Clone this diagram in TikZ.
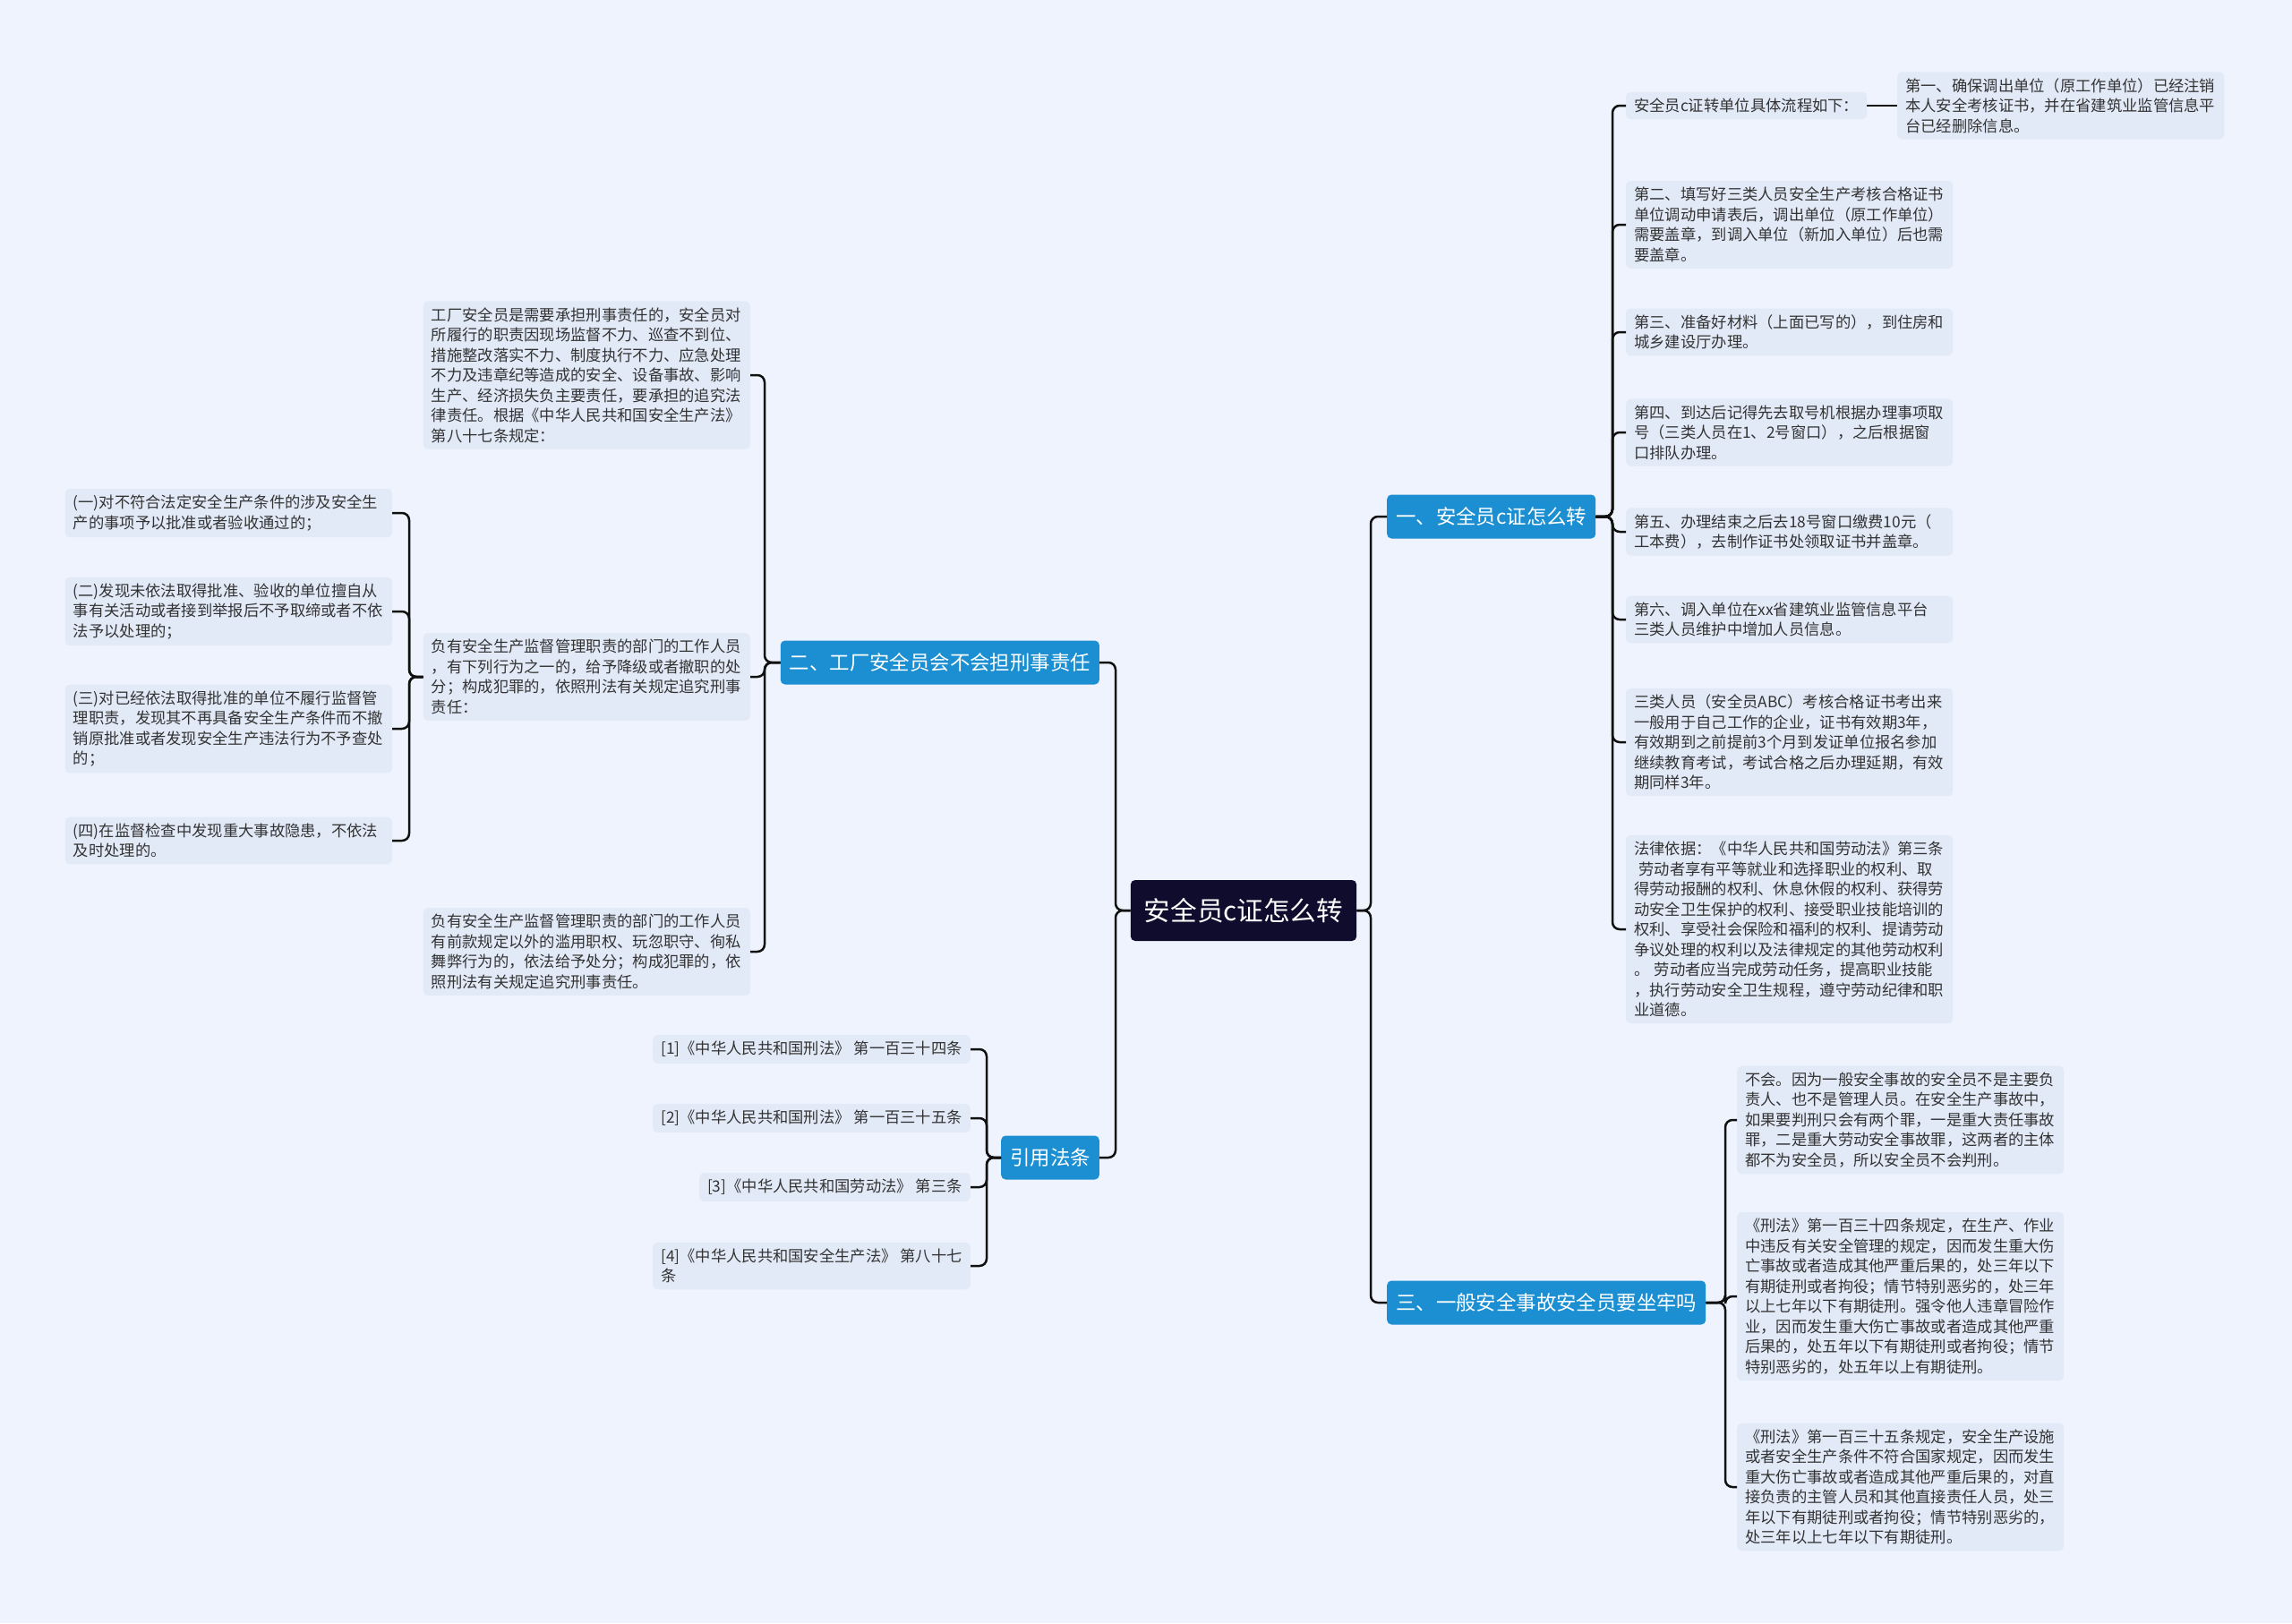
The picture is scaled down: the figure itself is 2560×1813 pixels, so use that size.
\documentclass[tikz,border=0pt]{standalone}
\usepackage{fontspec}
\newfontfamily\cjk{Noto Sans CJK SC}
\usepackage{tikz}

\definecolor{bgc}{HTML}{EEF3FD}
\definecolor{leafc}{HTML}{E2EAF8}
\definecolor{brc}{HTML}{1B8FD2}
\definecolor{rootc}{HTML}{0F0C2E}
\definecolor{txtc}{HTML}{333333}
\definecolor{linec}{HTML}{111111}

\begin{document}
\begin{tikzpicture}[x=1pt, y=1pt,
  root/.style={fill=rootc, text=white, rounded corners=5pt, inner xsep=15pt,
    minimum height=68pt, font=\cjk\fontsize{29.6}{34}\selectfont},
  branch/.style={fill=brc, text=white, rounded corners=5pt, inner xsep=10pt,
    minimum height=49pt, font=\cjk\fontsize{22.4}{27}\selectfont},
  tag/.style={fill=leafc, text=txtc, rounded corners=5pt, inner xsep=9pt,
    inner ysep=7pt, align=left, font=\cjk\fontsize{17.3}{22.5}\selectfont},
  leaf/.style={tag, text width=347pt},
  link/.style={draw=linec, line width=2.5pt, rounded corners=8pt}]
\fill[bgc] (0,0) rectangle (2560,-1813);
\useasboundingbox (0,0) rectangle (2560,-1813);

% junction columns
\coordinate (jR) at (1531,0);
\coordinate (j1) at (1801,0);
\coordinate (j3) at (1927,0);
\coordinate (jL) at (1246,0);
\coordinate (j2) at (854,0);
\coordinate (jA) at (457,0);
\coordinate (jC) at (1102,0);

\node[root] (root) at (1389,-1017) {安全员c证怎么转};

% right side
\node[branch, anchor=west] (br1) at (1549,-577) {一、安全员c证怎么转};
\node[branch, anchor=west] (br3) at (1549,-1455) {三、一般安全事故安全员要坐牢吗};

\node[tag, anchor=west] (l1) at (1816,-118) {安全员c证转单位具体流程如下：};
\node[leaf, anchor=west] (l1a) at (2119,-118)
  {第一、确保调出单位（原工作单位）已经注销\\本人安全考核证书，并在省建筑业监管信息平\\台已经删除信息。};
\node[leaf, anchor=west] (l2) at (1816,-251)
  {第二、填写好三类人员安全生产考核合格证书\\单位调动申请表后，调出单位（原工作单位）\\需要盖章，到调入单位（新加入单位）后也需\\要盖章。};
\node[leaf, anchor=west] (l3) at (1816,-371)
  {第三、准备好材料（上面已写的），到住房和\\城乡建设厅办理。};
\node[leaf, anchor=west] (l4) at (1816,-483)
  {第四、到达后记得先去取号机根据办理事项取\\号（三类人员在1、2号窗口），之后根据窗\\口排队办理。};
\node[leaf, anchor=west] (l5) at (1816,-594)
  {第五、办理结束之后去18号窗口缴费10元（\\工本费），去制作证书处领取证书并盖章。};
\node[leaf, anchor=west] (l6) at (1816,-692)
  {第六、调入单位在xx省建筑业监管信息平台\\三类人员维护中增加人员信息。};
\node[leaf, anchor=west] (l7) at (1816,-829)
  {三类人员（安全员ABC）考核合格证书考出来\\一般用于自己工作的企业，证书有效期3年，\\有效期到之前提前3个月到发证单位报名参加\\继续教育考试，考试合格之后办理延期，有效\\期同样3年。};
\node[leaf, anchor=west] (l8) at (1816,-1038)
  {法律依据：《中华人民共和国劳动法》第三条\\\hspace*{0.3em}劳动者享有平等就业和选择职业的权利、取\\得劳动报酬的权利、休息休假的权利、获得劳\\动安全卫生保护的权利、接受职业技能培训的\\权利、享受社会保险和福利的权利、提请劳动\\争议处理的权利以及法律规定的其他劳动权利\\。\hspace{0.3em}劳动者应当完成劳动任务，提高职业技能\\，执行劳动安全卫生规程，遵守劳动纪律和职\\业道德。};

\node[leaf, anchor=west] (r1) at (1940,-1251)
  {不会。因为一般安全事故的安全员不是主要负\\责人、也不是管理人员。在安全生产事故中，\\如果要判刑只会有两个罪，一是重大责任事故\\罪，二是重大劳动安全事故罪，这两者的主体\\都不为安全员，所以安全员不会判刑。};
\node[leaf, anchor=west] (r2) at (1940,-1448)
  {《刑法》第一百三十四条规定，在生产、作业\\中违反有关安全管理的规定，因而发生重大伤\\亡事故或者造成其他严重后果的，处三年以下\\有期徒刑或者拘役；情节特别恶劣的，处三年\\以上七年以下有期徒刑。强令他人违章冒险作\\业，因而发生重大伤亡事故或者造成其他严重\\后果的，处五年以下有期徒刑或者拘役；情节\\特别恶劣的，处五年以上有期徒刑。};
\node[leaf, anchor=west] (r3) at (1940,-1661)
  {《刑法》第一百三十五条规定，安全生产设施\\或者安全生产条件不符合国家规定，因而发生\\重大伤亡事故或者造成其他严重后果的，对直\\接负责的主管人员和其他直接责任人员，处三\\年以下有期徒刑或者拘役；情节特别恶劣的，\\处三年以上七年以下有期徒刑。};

% left side
\node[branch, anchor=east] (br2) at (1228,-740) {二、工厂安全员会不会担刑事责任};
\node[branch, anchor=east] (cite) at (1228,-1293) {引用法条};

\node[leaf, anchor=east] (a1) at (838,-419)
  {工厂安全员是需要承担刑事责任的，安全员对\\所履行的职责因现场监督不力、巡查不到位、\\措施整改落实不力、制度执行不力、应急处理\\不力及违章纪等造成的安全、设备事故、影响\\生产、经济损失负主要责任，要承担的追究法\\律责任。根据《中华人民共和国安全生产法》\\第八十七条规定：};
\node[leaf, anchor=east] (a2) at (838,-756)
  {负有安全生产监督管理职责的部门的工作人员\\，有下列行为之一的，给予降级或者撤职的处\\分；构成犯罪的，依照刑法有关规定追究刑事\\责任：};
\node[leaf, anchor=east] (a3) at (838,-1063)
  {负有安全生产监督管理职责的部门的工作人员\\有前款规定以外的滥用职权、玩忽职守、徇私\\舞弊行为的，依法给予处分；构成犯罪的，依\\照刑法有关规定追究刑事责任。};

\node[leaf, anchor=east] (b1) at (438,-573)
  {(一)对不符合法定安全生产条件的涉及安全生\\产的事项予以批准或者验收通过的；};
\node[leaf, anchor=east] (b2) at (438,-683)
  {(二)发现未依法取得批准、验收的单位擅自从\\事有关活动或者接到举报后不予取缔或者不依\\法予以处理的；};
\node[leaf, anchor=east] (b3) at (438,-814)
  {(三)对已经依法取得批准的单位不履行监督管\\理职责，发现其不再具备安全生产条件而不撤\\销原批准或者发现安全生产违法行为不予查处\\的；};
\node[leaf, anchor=east] (b4) at (438,-939)
  {(四)在监督检查中发现重大事故隐患，不依法\\及时处理的。};

\node[tag, anchor=east] (c1) at (1084,-1172) {[1]《中华人民共和国刑法》 第一百三十四条};
\node[tag, anchor=east] (c2) at (1084,-1249) {[2]《中华人民共和国刑法》 第一百三十五条};
\node[tag, anchor=east] (c3) at (1084,-1326) {[3]《中华人民共和国劳动法》 第三条};
\node[tag, anchor=east] (c4) at (1084,-1414) {[4]《中华人民共和国安全生产法》 第八十七\\条};

% connectors
\foreach \n in {br1,br3}
  \draw[link] (root.east) -- (root.east -| jR) |- (\n.west);
\foreach \n in {l1,l2,l3,l4,l5,l6,l7,l8}
  \draw[link] (br1.east) -- (br1.east -| j1) |- (\n.west);
\draw[link] (l1.east) -- (l1a.west);
\foreach \n in {r1,r2,r3}
  \draw[link] (br3.east) -- (br3.east -| j3) |- (\n.west);
\foreach \n in {br2,cite}
  \draw[link] (root.west) -- (root.west -| jL) |- (\n.east);
\foreach \n in {a1,a2,a3}
  \draw[link] (br2.west) -- (br2.west -| j2) |- (\n.east);
\foreach \n in {b1,b2,b3,b4}
  \draw[link] (a2.west) -- (a2.west -| jA) |- (\n.east);
\foreach \n in {c1,c2,c3,c4}
  \draw[link] (cite.west) -- (cite.west -| jC) |- (\n.east);
\end{tikzpicture}
\end{document}
